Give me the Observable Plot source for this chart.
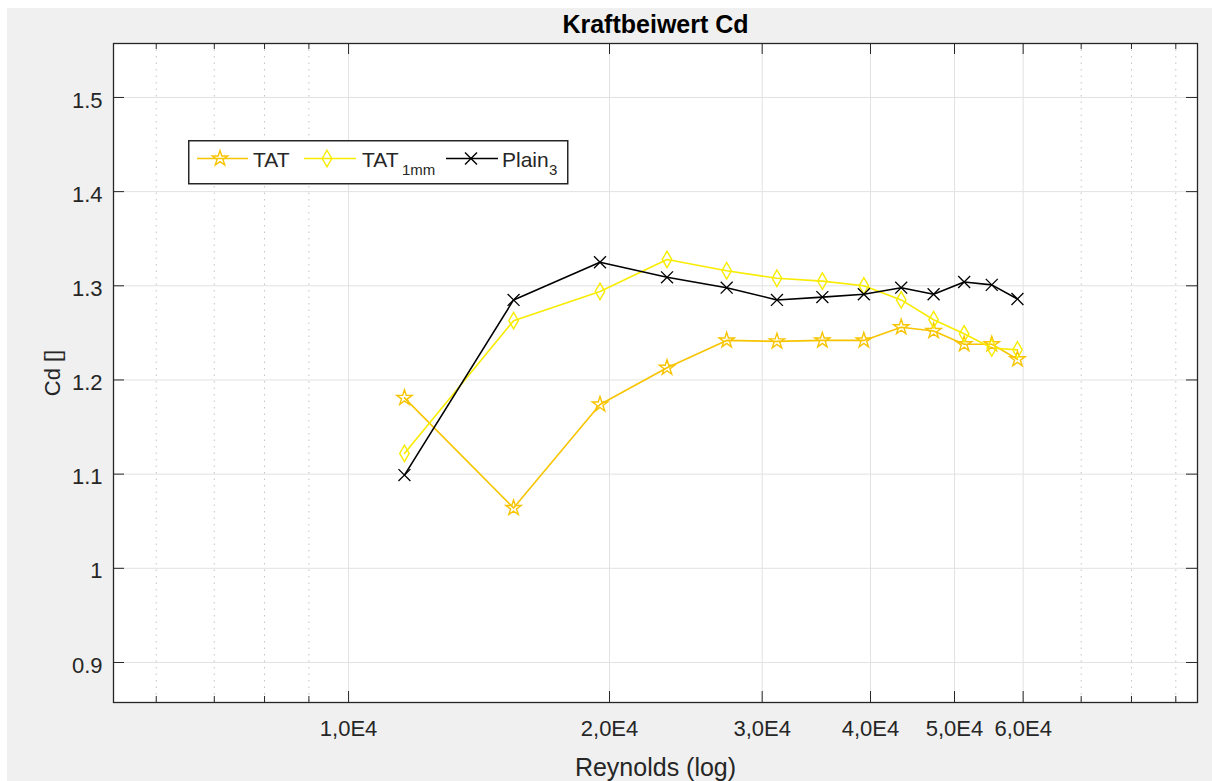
<!DOCTYPE html>
<html><head><meta charset="utf-8">
<script src="https://cdn.jsdelivr.net/npm/d3@7"></script>
<script src="https://cdn.jsdelivr.net/npm/@observablehq/plot@0.6"></script>
<style>
body{margin:0;background:#fff;width:1212px;height:781px;overflow:hidden;position:relative;font-family:"Liberation Sans",Arial,sans-serif;}
#bg{position:absolute;left:7px;top:8px;width:1205px;height:773px;background:#f0f0f0;}
#chart{position:absolute;left:0;top:0;}
#legend{position:absolute;left:188px;top:140px;}
</style></head><body>
<div id="bg"></div><div id="chart"></div><div id="legend"></div>
<script>
const reynolds = [11600, 15500, 19500, 23300, 27300, 31200, 35200, 39300, 43400, 47300, 51300, 55200, 59100];
const cdTAT    = [1.181, 1.064, 1.174, 1.213, 1.242, 1.241, 1.242, 1.242, 1.256, 1.252, 1.238, 1.238, 1.222];
const cdTAT1mm = [1.122, 1.263, 1.294, 1.328, 1.316, 1.308, 1.305, 1.300, 1.285, 1.264, 1.249, 1.234, 1.232];
const cdPlain3 = [1.099, 1.285, 1.325, 1.309, 1.298, 1.285, 1.288, 1.291, 1.298, 1.291, 1.304, 1.301, 1.286];
const seriesNames = ["TAT", "TAT1mm", "Plain3"];
const seriesColors = ["#F8C400", "#F8EC00", "#000000"];
const xTickValues = [10000, 20000, 30000, 40000, 50000, 60000];
const xMinorValues = [6000, 7000, 8000, 9000, 70000, 80000, 90000];
const yTickValues = [0.9, 1, 1.1, 1.2, 1.3, 1.4, 1.5];
const titleText = "Kraftbeiwert Cd";
const xLabelText = "Reynolds (log)";
const yLabelText = "Cd []";

const rows = [];
[cdTAT, cdTAT1mm, cdPlain3].forEach((arr, i) => arr.forEach((v, j) => rows.push({series: seriesNames[i], re: reynolds[j], cd: v})));
const bySeries = s => rows.filter(d => d.series === s);

const W = 1212, H = 781, mL = 113, mR = 15, mT = 43, mB = 79;
const pW = W - mL - mR, pH = H - mT - mB;
const ink = "#262626", gridCol = "#e2e2e2";
const xFmt = d => (d / 1e4).toFixed(1).replace(".", ",") + "E4";
const yFmt = d => d === 1 ? "1" : d.toFixed(1);

const chart = Plot.plot({
  width: W, height: H, marginLeft: mL, marginRight: mR, marginTop: mT, marginBottom: mB,
  style: {background: "transparent", fontFamily: "'Liberation Sans', Arial, sans-serif", overflow: "visible"},
  x: {type: "log", domain: [5356, 95340]},
  y: {domain: [0.8575, 1.5573]},
  color: {domain: seriesNames, range: seriesColors},
  marks: [
    Plot.frame({fill: "white", stroke: "none"}),
    Plot.ruleY(yTickValues, {y: d => d, stroke: gridCol}),
    Plot.ruleX(xTickValues, {x: d => d, stroke: gridCol}),
    Plot.ruleX(xMinorValues, {x: d => d, stroke: "#c4c4c4", strokeDasharray: "1.5,5"}),
    // inward ticks
    Plot.ruleX(xTickValues, {x: d => d, stroke: ink, insetTop: pH - 11}),
    Plot.ruleX(xTickValues, {x: d => d, stroke: ink, insetBottom: pH - 11}),
    Plot.ruleX(xMinorValues, {x: d => d, stroke: ink, insetTop: pH - 6}),
    Plot.ruleX(xMinorValues, {x: d => d, stroke: ink, insetBottom: pH - 6}),
    Plot.ruleY(yTickValues, {y: d => d, stroke: ink, insetRight: pW - 11}),
    Plot.ruleY(yTickValues, {y: d => d, stroke: ink, insetLeft: pW - 11}),
    Plot.axisX(xTickValues, {tickSize: 0, tickPadding: 18, tickFormat: xFmt, fontSize: 22, fill: ink, label: null}),
    Plot.axisY(yTickValues, {tickSize: 0, tickPadding: 11, tickFormat: yFmt, fontSize: 22, fill: ink, dy: 3, label: null}),
    // series
    ...seriesNames.map(s => Plot.line(bySeries(s), {x: "re", y: "cd", stroke: "series", strokeWidth: 1.6})),
    Plot.dot(bySeries("TAT"), {x: "re", y: "cd", stroke: "series", symbol: "star", r: 4.8, fill: "none", strokeWidth: 1.4}),
    Plot.dot(bySeries("TAT1mm"), {x: "re", y: "cd", stroke: "series", symbol: "diamond", r: 5, fill: "none", strokeWidth: 1.4}),
    Plot.dot(bySeries("Plain3"), {x: "re", y: "cd", stroke: "series", symbol: "times", r: 5.5, fill: "none", strokeWidth: 1.3}),
    Plot.frame({stroke: ink, strokeWidth: 1.3}),
    // labels
    Plot.text([titleText], {frameAnchor: "top", dy: -19, lineAnchor: "middle", fontSize: 25, fontWeight: "bold", fill: "#000"}),
    Plot.text([xLabelText], {frameAnchor: "bottom", dy: 65, lineAnchor: "middle", fontSize: 25, fill: ink}),
    Plot.text([yLabelText], {frameAnchor: "left", dx: -61, rotate: -90, textAnchor: "middle", lineAnchor: "middle", fontSize: 22, fill: ink})
  ]
});
document.getElementById("chart").appendChild(chart);

// legend
const lg = d3.select("#legend").append("svg").attr("width", 381).attr("height", 45)
  .style("font-family", "'Liberation Sans', Arial, sans-serif");
lg.append("rect").attr("x", 0.75).attr("y", 0.75).attr("width", 379).attr("height", 43)
  .attr("fill", "white").attr("stroke", ink).attr("stroke-width", 1.5);
const legendItems = [
  {main: "TAT", sub: "", color: seriesColors[0], sym: d3.symbolStar, size: Math.PI * 4.8 * 4.8, x0: 9, x1: 60, mx: 32, tx: 65, sx: 0},
  {main: "TAT", sub: "1mm", color: seriesColors[1], sym: d3.symbolDiamond, size: Math.PI * 25, x0: 116, x1: 168, mx: 139, tx: 174, sx: 214},
  {main: "Plain", sub: "3", color: seriesColors[2], sym: d3.symbolTimes, size: Math.PI * 5.5 * 5.5, x0: 258, x1: 310, mx: 283, tx: 314, sx: 361}
];
legendItems.forEach(it => {
  lg.append("line").attr("x1", it.x0).attr("x2", it.x1).attr("y1", 18.5).attr("y2", 18.5)
    .attr("stroke", it.color).attr("stroke-width", 1.6);
  lg.append("path").attr("d", d3.symbol(it.sym, it.size)()).attr("transform", `translate(${it.mx},18.5)`)
    .attr("fill", "none").attr("stroke", it.color).attr("stroke-width", 1.4);
  lg.append("text").attr("x", it.tx).attr("y", 27).attr("font-size", 21).attr("fill", ink).text(it.main);
  if (it.sub) lg.append("text").attr("x", it.sx).attr("y", 35).attr("font-size", 15).attr("fill", ink).text(it.sub);
});
</script>
</body></html>
